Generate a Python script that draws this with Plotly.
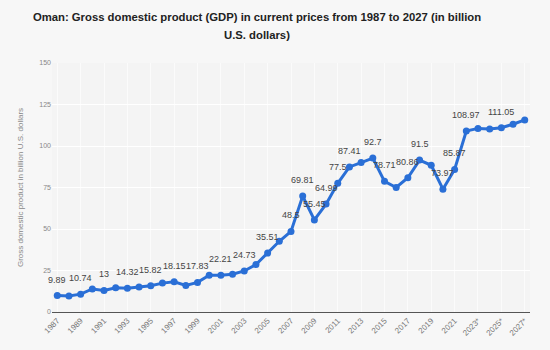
import plotly.graph_objects as go

years = list(range(1987, 2028))
gdp = [9.89, 9.7, 10.74, 13.9, 13.0, 14.6, 14.32, 15.0, 15.82, 17.4,
       18.15, 16.0, 17.83, 22.1, 22.21, 22.8, 24.73, 28.6, 35.51, 42.6,
       48.5, 69.81, 55.45, 64.99, 77.5, 87.41, 90.0, 92.7, 78.71, 75.0,
       80.86, 91.5, 88.4, 73.97, 85.87, 108.97, 110.6, 110.2, 111.05, 113.1,
       115.7]
labeled_years = [1987, 1989, 1991, 1993, 1995, 1997, 1999, 2001, 2003, 2005,
                 2007, 2008, 2009, 2010, 2011, 2012, 2014, 2015, 2017, 2018,
                 2020, 2021, 2022, 2025]
tick_years = list(range(1987, 2028, 2))
tick_labels = [str(y) + ("*" if y >= 2023 else "") for y in tick_years]
y_ticks = [0, 25, 50, 75, 100, 125, 150]

FONT = "Liberation Sans, Arial, sans-serif"
BLUE = "#2a6fd6"

def fmt(v):
    return f"{v:.2f}".rstrip("0").rstrip(".")

fig = go.Figure()
fig.add_trace(go.Scatter(
    x=years, y=gdp, mode="lines+markers",
    line=dict(color=BLUE, width=3),
    marker=dict(color=BLUE, size=7),
    cliponaxis=False, hoverinfo="x+y",
))

for y, v in zip(years, gdp):
    if y in labeled_years:
        fig.add_annotation(x=y, y=v, text=fmt(v), showarrow=False,
                           yshift=16, font=dict(family=FONT, size=9, color="#444444"))

fig.update_layout(
    width=550, height=350,
    margin=dict(l=52, r=20, t=63, b=38),
    paper_bgcolor="#f7f7f7", plot_bgcolor="#f4f4f4",
    showlegend=False,
    title=dict(
        text="<b>Oman: Gross domestic product (GDP) in current prices from 1987 to 2027 (in billion</b>",
        x=257 / 550, xanchor="center", xref="container", y=1 - 17 / 350, yanchor="middle", yref="container",
        font=dict(family=FONT, size=11.3, color="#222222"),
    ),
    font=dict(family=FONT),
)
fig.add_annotation(xref="paper", yref="paper", x=(257 - 52) / 478, y=1 + (63 - 35) / 249,
                   xanchor="center", yanchor="middle", showarrow=False,
                   text="<b>U.S. dollars)</b>", font=dict(family=FONT, size=11.3, color="#222222"))

fig.update_xaxes(
    range=[1986.55, 2027.45], tickmode="array", tickvals=tick_years, ticktext=tick_labels,
    tickangle=-45, tickfont=dict(size=8, color="#777777"),
    showgrid=True, gridcolor="#fbfbfb", gridwidth=1,
    showline=True, linecolor="#555555", linewidth=1, zeroline=False, ticks="",
)
fig.update_yaxes(
    range=[0, 150], tickmode="array", tickvals=y_ticks,
    tickfont=dict(size=7, color="#888888"),
    showgrid=True, gridcolor="#ffffff", gridwidth=1, zeroline=False,
    title=dict(text="Gross domestic product in billion U.S. dollars",
               font=dict(size=8, color="#888888"), standoff=14),
    ticks="",
)
fig.write_html("out.html")
